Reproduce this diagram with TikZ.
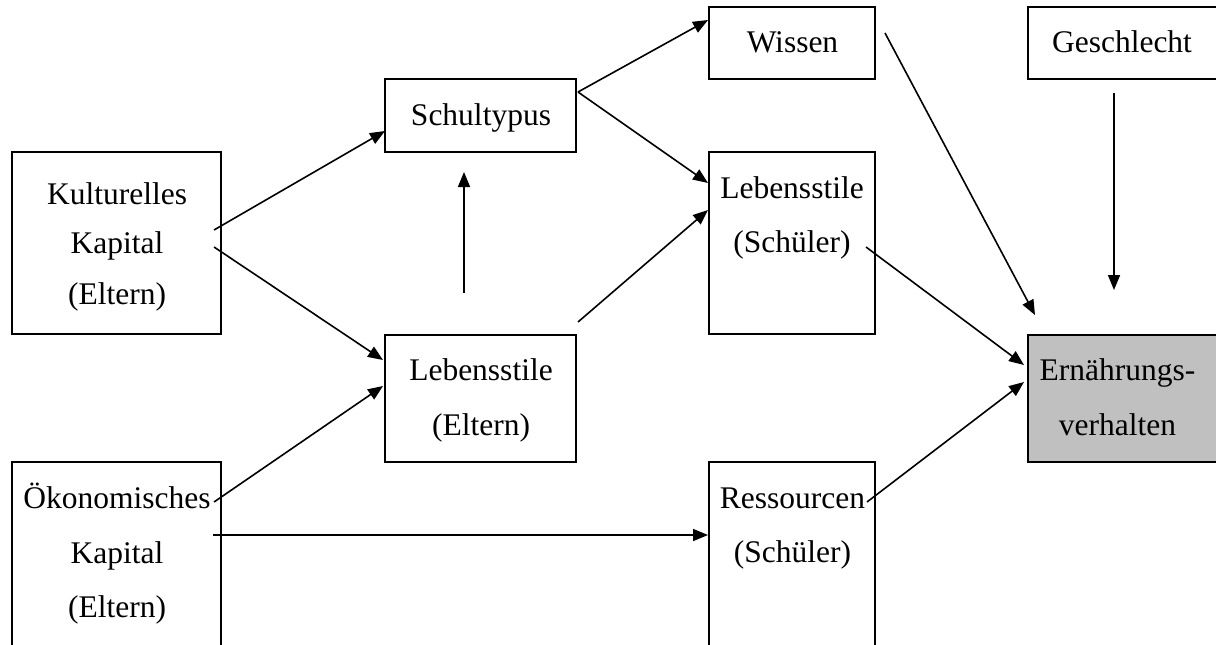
\documentclass[tikz,border=0pt]{standalone}
\usepackage{fontspec}
\setmainfont{Liberation Serif}
\usetikzlibrary{arrows.meta}
\tikzset{
  box/.style={draw, line width=1.1pt, inner sep=0pt, outer sep=0pt},
  lbl/.style={anchor=base, inner sep=0pt, font=\fontsize{15.75}{18}\selectfont},
  conn/.style={line width=0.8pt, -{Triangle[length=7.5pt,width=6pt]}}
}
\begin{document}
\begin{tikzpicture}[x=0.5pt,y=-0.5pt]
\useasboundingbox (0,0) rectangle (1216,644);
\clip (0,0) rectangle (1216,644);
% boxes
\node[box, minimum width=104.5pt, minimum height=91pt] (kk) at (116.5,243) {};
\node[box, minimum width=104.5pt, minimum height=109pt] (ok) at (116.5,571) {};
\node[box, minimum width=95.5pt, minimum height=36.5pt] (st) at (480.5,115.5) {};
\node[box, minimum width=95.5pt, minimum height=63.5pt] (le) at (480.5,398.5) {};
\node[box, minimum width=83pt, minimum height=36pt] (wi) at (792,43) {};
\node[box, minimum width=83pt, minimum height=91pt] (ls) at (792,243) {};
\node[box, minimum width=83pt, minimum height=109pt] (rs) at (792,571) {};
\node[box, minimum width=110pt, minimum height=36pt] (ge) at (1138,43) {};
\node[box, fill={rgb,255:red,192;green,192;blue,192}, minimum width=110pt, minimum height=63.5pt] (er) at (1138,398.5) {};
% labels
\node[lbl] (kk1) at (117,204) {Kulturelles};
\node[lbl] (kk2) at (117,253) {Kapital};
\node[lbl] (kk3) at (117,304) {(Eltern)};
\node[lbl] (ok1) at (117,508) {Ökonomisches};
\node[lbl] (ok2) at (117,563) {Kapital};
\node[lbl] (ok3) at (117,617) {(Eltern)};
\node[lbl] (st1) at (481,125) {Schultypus};
\node[lbl] (le1) at (481,380) {Lebensstile};
\node[lbl] (le2) at (481,435) {(Eltern)};
\node[lbl] (wi1) at (792.5,52) {Wissen};
\node[lbl] (ge1) at (1122,52) {Geschlecht};
\node[lbl] (ls1) at (792,198) {Lebensstile};
\node[lbl] (ls2) at (792,252) {(Schüler)};
\node[lbl] (rs1) at (792.5,508) {Ressourcen};
\node[lbl] (rs2) at (792.5,562) {(Schüler)};
\node[lbl] (er1) at (1117.5,380) {Ernährungs-};
\node[lbl] (er2) at (1117.5,435) {verhalten};
% connector ends
\coordinate (a1s) at (214,230); \coordinate (a1e) at (385,131);
\coordinate (a2s) at (214,247); \coordinate (a2e) at (383,360);
\coordinate (a3s) at (214,502); \coordinate (a3e) at (383,386);
\coordinate (a4s) at (213,535); \coordinate (a4e) at (708,535);
\coordinate (a5s) at (464,293); \coordinate (a5e) at (464,172);
\coordinate (a6s) at (578,322); \coordinate (a6e) at (708,210);
\coordinate (a7s) at (578,92);  \coordinate (a7e) at (708,20);
\coordinate (a8s) at (578,92);  \coordinate (a8e) at (708,183);
\coordinate (a9s) at (885,33);  \coordinate (a9e) at (1035,315);
\coordinate (a10s) at (866,247); \coordinate (a10e) at (1024,365);
\coordinate (a11s) at (867,502); \coordinate (a11e) at (1024,382);
\coordinate (a12s) at (1114,93); \coordinate (a12e) at (1114,290);
% connectors
\draw[conn] (a1s) -- (a1e);
\draw[conn] (a2s) -- (a2e);
\draw[conn] (a3s) -- (a3e);
\draw[conn] (a4s) -- (a4e);
\draw[conn] (a5s) -- (a5e);
\draw[conn] (a6s) -- (a6e);
\draw[conn] (a7s) -- (a7e);
\draw[conn] (a8s) -- (a8e);
\draw[conn] (a9s) -- (a9e);
\draw[conn] (a10s) -- (a10e);
\draw[conn] (a11s) -- (a11e);
\draw[conn] (a12s) -- (a12e);
\end{tikzpicture}
\end{document}
